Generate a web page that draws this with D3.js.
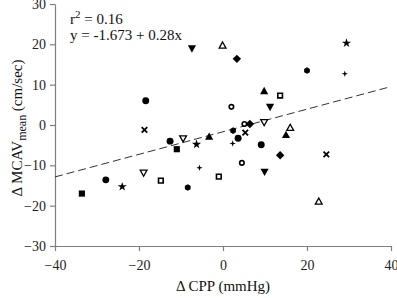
<!DOCTYPE html>
<html><head><meta charset="utf-8">
<script src="https://cdn.jsdelivr.net/npm/d3@7"></script>
<style>body{margin:0;background:#fff}svg{display:block}svg text{font-family:"Times New Roman","Liberation Serif",Times,serif !important}</style>
</head><body>
<svg id="c" width="397" height="298"></svg>
<script>
// Data: ΔCPP (x) and ΔMCAVmean (y), one array pair per marker series
const xTicks = [-40, -20, 0, 20, 40];
const yTicks = [-30, -20, -10, 0, 10, 20, 30];
const fitIntercept = -1.673, fitSlope = 0.28, r2 = 0.16;

const filledCircleX = [-18.4, 3.6, 9.1, -12.6, -27.9];
const filledCircleY = [6.0, -3.3, -4.9, -4.0, -13.6];
const hexX = [20.0, 2.4, -8.4];
const hexY = [13.5, -1.4, -15.5];
const openCircleX = [2.0, 5.1, 4.5];
const openCircleY = [4.5, 0.25, -9.4];
const filledSquareX = [-11.0, -33.6];
const filledSquareY = [-6.0, -17.0];
const openSquareX = [13.6, -14.8, -1.0];
const openSquareY = [7.3, -13.8, -12.8];
const triUpFilledX = [9.8, -3.3, 15.0];
const triUpFilledY = [8.4, -2.9, -2.5];
const triUpOpenX = [-0.1, 16.0, 22.8];
const triUpOpenY = [19.7, -0.7, -19.0];
const triDownFilledX = [-7.4, 11.2, 9.9];
const triDownFilledY = [19.0, 4.5, -11.6];
const triDownOpenX = [9.8, -9.5, -18.9];
const triDownOpenY = [0.7, -3.3, -11.8];
const diamondX = [3.3, 6.4, 13.6];
const diamondY = [16.4, 0.25, -7.5];
const crossX = [-18.7, 5.3, 24.6];
const crossY = [-1.2, -1.9, -7.3];
const starX = [29.4, -6.3, -24.0];
const starY = [20.3, -4.8, -15.3];
const smallStarX = [29.0, 2.3, -5.6];
const smallStarY = [12.7, -4.6, -10.6];

const svg = d3.select("#c");
const x = d3.scaleLinear().domain([-40, 40]).range([55, 391]);
const y = d3.scaleLinear().domain([-30, 30]).range([246, 4]);
const axisCol = "#7f7f7f";

// axes
const gx = svg.append("g").attr("transform", "translate(0,246)")
  .call(d3.axisBottom(x).tickValues(xTicks).tickSize(5).tickSizeOuter(0).tickPadding(9));
const gy = svg.append("g").attr("transform", "translate(55,0)")
  .call(d3.axisLeft(y).tickValues(yTicks).tickSize(5).tickSizeOuter(0).tickPadding(4));
[gx, gy].forEach(g => {
  g.attr("font-family", null);
  g.select(".domain").attr("stroke", axisCol).attr("stroke-width", 1.2);
  g.selectAll(".tick line").attr("stroke", axisCol).attr("stroke-width", 1.2);
  g.selectAll(".tick text").attr("fill", "#222").style("font-size", "14px");
});

// regression line
svg.append("line")
  .attr("x1", x(-40)).attr("y1", y(fitIntercept + fitSlope * -40))
  .attr("x2", x(40)).attr("y2", y(fitIntercept + fitSlope * 40))
  .attr("stroke", "#333").attr("stroke-width", 1).attr("stroke-dasharray", "8,4");

// custom shapes
const hexPath = (r) => { const p = d3.path(); for (let i = 0; i < 6; i++) { const a = Math.PI / 6 + i * Math.PI / 3; const px = r * Math.cos(a), py = r * Math.sin(a); i ? p.lineTo(px, py) : p.moveTo(px, py); } p.closePath(); return p.toString(); };
const star4 = (r) => { const p = d3.path(); for (let i = 0; i < 8; i++) { const a = -Math.PI / 2 + i * Math.PI / 4; const rr = i % 2 ? r * 0.35 : r; const px = rr * Math.cos(a), py = rr * Math.sin(a); i ? p.lineTo(px, py) : p.moveTo(px, py); } p.closePath(); return p.toString(); };
const diamondPath = (r) => `M0,${-r}L${r},0L0,${r}L${-r},0Z`;
const triUp = (r) => `M0,${-r}L${r * 0.95},${r * 0.7}L${-r * 0.95},${r * 0.7}Z`;
const triDown = (r) => `M0,${r}L${r * 0.95},${-r * 0.7}L${-r * 0.95},${-r * 0.7}Z`;

const series = [
  { xs: filledCircleX, ys: filledCircleY, d: d3.symbol(d3.symbolCircle, 38)(), fill: "#000", stroke: "none", sw: 0 },
  { xs: hexX, ys: hexY, d: hexPath(3.3), fill: "#000", stroke: "none", sw: 0 },
  { xs: openCircleX, ys: openCircleY, d: d3.symbol(d3.symbolCircle, 16)(), fill: "#fff", stroke: "#000", sw: 1.6 },
  { xs: filledSquareX, ys: filledSquareY, d: d3.symbol(d3.symbolSquare, 38)(), fill: "#000", stroke: "none", sw: 0 },
  { xs: openSquareX, ys: openSquareY, d: d3.symbol(d3.symbolSquare, 22)(), fill: "#fff", stroke: "#000", sw: 1.6 },
  { xs: triUpFilledX, ys: triUpFilledY, d: triUp(4.3), fill: "#000", stroke: "none", sw: 0 },
  { xs: triUpOpenX, ys: triUpOpenY, d: triUp(3.6), fill: "#fff", stroke: "#000", sw: 1.3 },
  { xs: triDownFilledX, ys: triDownFilledY, d: triDown(4.3), fill: "#000", stroke: "none", sw: 0 },
  { xs: triDownOpenX, ys: triDownOpenY, d: triDown(3.6), fill: "#fff", stroke: "#000", sw: 1.3 },
  { xs: diamondX, ys: diamondY, d: diamondPath(4.2), fill: "#000", stroke: "none", sw: 0 },
  { xs: crossX, ys: crossY, d: d3.symbol(d3.symbolTimes, 22)(), fill: "none", stroke: "#000", sw: 1.8 },
  { xs: starX, ys: starY, d: d3.symbol(d3.symbolStar, 26)(), fill: "#000", stroke: "none", sw: 0 },
  { xs: smallStarX, ys: smallStarY, d: star4(3.2), fill: "#000", stroke: "none", sw: 0 }
];

series.forEach(s => {
  svg.append("g").selectAll("path").data(s.xs.map((v, i) => [v, s.ys[i]])).join("path")
    .attr("d", s.d)
    .attr("transform", d => `translate(${x(d[0])},${y(d[1])})`)
    .attr("fill", s.fill).attr("stroke", s.stroke).attr("stroke-width", s.sw);
});

// annotation
const ann = svg.append("g").style("font-size", "15px").attr("fill", "#111");
const t1 = ann.append("text").attr("x", 70).attr("y", 24);
t1.append("tspan").text("r");
t1.append("tspan").attr("dy", -6).style("font-size", "11px").text("2");
t1.append("tspan").attr("dy", 6).text(" = " + r2.toFixed(2));
ann.append("text").attr("x", 70).attr("y", 40).text(`y = ${fitIntercept} + ${fitSlope}x`);

// axis titles
svg.append("text").attr("x", 223).attr("y", 291).attr("text-anchor", "middle")
  .style("font-size", "15px").attr("fill", "#111").text("Δ CPP (mmHg)");
const yt = svg.append("text").attr("transform", "translate(22,128) rotate(-90)").attr("text-anchor", "middle")
  .style("font-size", "15px").attr("fill", "#111");
yt.append("tspan").text("Δ MCAV");
yt.append("tspan").attr("dy", 4).style("font-size", "12px").text("mean");
yt.append("tspan").attr("dy", -4).text(" (cm/sec)");
</script>
</body></html>
